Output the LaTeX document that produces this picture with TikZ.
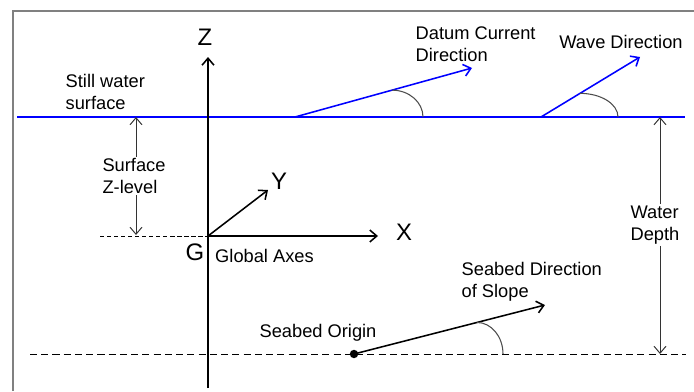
\documentclass[tikz,border=0pt]{standalone}
\usepackage{fontspec}
\setmainfont{Liberation Sans}
\usetikzlibrary{arrows.meta}
\begin{document}
\begin{tikzpicture}[font=\fontsize{13}{15.5}\selectfont,
  >={Straight Barb[length=5pt,width=8.5pt]},
  lbl/.style={inner sep=1pt,align=left},
  ax/.style={font=\fontsize{17}{20}\selectfont,inner sep=1pt},
  surf/.style={draw=blue,line width=1.1pt},
  vec/.style={->,line width=1.1pt},
  ang/.style={draw=black!70,line width=0.75pt},
  dim/.style={->,draw=black!80,line width=0.7pt}]
  \useasboundingbox (0,0) rectangle (17.35,9.775);
  \draw[gray,line width=1pt] (0.325,0) -- (0.325,9.5) -- (17.35,9.5);
  % superficie, fondo y ejes
  \coordinate (swL) at (0.425,6.85);
  \coordinate (swR) at (17.125,6.85);
  \coordinate (sbL) at (0.75,0.925);
  \coordinate (sbR) at (17.15,0.925);
  \coordinate (G) at (5.2,3.875);
  \coordinate (zB) at (5.2,0.075);
  \coordinate (zT) at (5.2,8.35);
  \coordinate (xT) at (9.45,3.875);
  \coordinate (yT) at (6.7,5.025);
  \coordinate (zlD) at (2.5,3.875);
  \draw[surf] (swL)--(swR);
  \draw[dashed,dash pattern=on 5pt off 3pt,line width=0.7pt] (sbL)--(sbR);
  \draw[dash pattern=on 3pt off 2pt,line width=0.6pt] (zlD)--(G);
  \draw[vec] (zB)--(zT);
  \draw[vec] (G)--(xT);
  \draw[vec] (G)--(yT);
  \node[ax] (zl) at (5.125,8.85) {Z};
  \node[ax] (xl) at (10.1,3.975) {X};
  \node[ax] (yl) at (6.975,5.25) {Y};
  \node[ax] (gl) at (4.875,3.475) {G};
  \node[lbl] (ga) at (6.6125,3.375) {Global Axes};
  \node[lbl,anchor=west] (sw) at (1.6,7.475) {Still water\\surface};
  % nivel Z de la superficie
  \node[lbl] (zlev) at (3.35,5.375) {Surface\\Z-level};
  \coordinate (zlT) at (3.4,6.85);
  \coordinate (zlB) at (3.4,3.9);
  \draw[dim] (zlev.north -| zlT)--(zlT);
  \draw[dim] (zlev.south -| zlB)--(zlB);
  % profundidad
  \node[lbl] (wd) at (16.375,4.15) {Water\\Depth};
  \coordinate (wdT) at (16.5,6.85);
  \coordinate (wdB) at (16.5,0.925);
  \draw[dim] (wd.north -| wdT)--(wdT);
  \draw[dim] (wd.south -| wdB)--(wdB);
  % corriente y oleaje
  \coordinate (dc) at (7.375,6.85);
  \coordinate (dcT) at (11.8,8.075);
  \coordinate (wv) at (13.525,6.85);
  \coordinate (wvT) at (16.0,8.35);
  \draw[vec,blue] (dc)-- coordinate[pos=0.548] (dcA) (dcT);
  \draw[vec,blue] (wv)-- coordinate[pos=0.394] (wvA) (wvT);
  \draw[ang] (dcA) arc[start angle=90,end angle=0,x radius=0.775,y radius=0.6725];
  \draw[ang] (wvA) arc[start angle=90,end angle=0,x radius=0.95,y radius=0.59];
  \node[lbl,anchor=west] (dcl) at (10.35,8.675) {Datum Current\\Direction};
  \node[lbl] (wvl) at (15.525,8.725) {Wave Direction};
  % origen y pendiente del fondo
  \node[circle,fill,inner sep=0pt,minimum size=6pt] (so) at (8.85,0.925) {};
  \coordinate (slT) at (13.625,2.15);
  \draw[vec] (so.center)-- coordinate[pos=0.644] (slA) (slT);
  \draw[ang] (slA) arc[start angle=90,end angle=0,x radius=0.65,y radius=0.79];
  \node[lbl] (sol) at (7.95,1.45) {Seabed Origin};
  \node[lbl,anchor=west] (sll) at (11.5,2.74) {Seabed Direction\\of Slope};
\end{tikzpicture}
\end{document}
